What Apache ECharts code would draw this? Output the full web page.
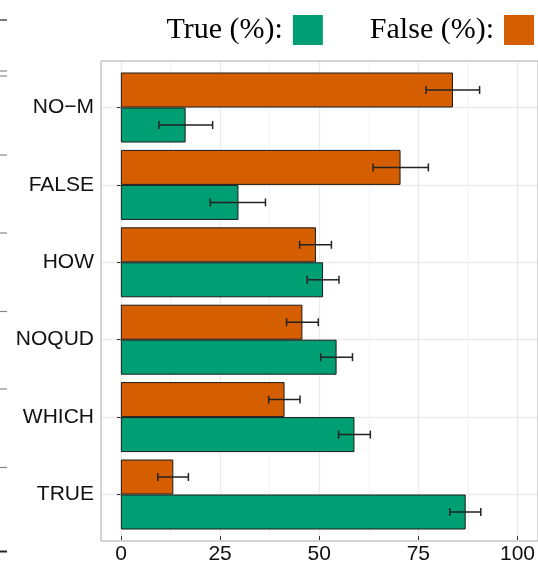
<!DOCTYPE html>
<html><head><meta charset="utf-8">
<script src="https://cdn.jsdelivr.net/npm/echarts@6/dist/echarts.min.js"></script>
<style>html,body{margin:0;padding:0;background:#fff}#c{width:538px;height:565px}</style>
</head><body><div id="c"></div>
<script>
// Categories listed bottom-to-top
const categories = ['TRUE', 'WHICH', 'NOQUD', 'HOW', 'FALSE', 'NO\u2212M'];
const trueValues = [86.8, 58.8, 54.3, 50.9, 29.6, 16.3];
const trueLow    = [82.8, 54.8, 50.3, 46.9, 22.5, 9.6];
const trueHigh   = [90.6, 62.8, 58.3, 54.9, 36.4, 23.1];
const falseValues = [13.2, 41.2, 45.7, 49.1, 70.4, 83.6];
const falseLow    = [9.3, 37.2, 41.7, 45.0, 63.5, 76.8];
const falseHigh   = [17.0, 45.1, 49.7, 53.0, 77.4, 90.3];
const xTickInterval = 25;

const BAR_W = 35;
const chart = echarts.init(document.getElementById('c'), null, {renderer: 'canvas'});

function errRender(dir) {
  return function (params, api) {
    const lo = api.coord([api.value(0), api.value(2)]);
    const hi = api.coord([api.value(1), api.value(2)]);
    const y = lo[1] + dir * BAR_W / 2;
    const h = 4;
    const st = {stroke: '#222', lineWidth: 1.5};
    return {type: 'group', children: [
      {type: 'line', shape: {x1: lo[0], y1: y, x2: hi[0], y2: y}, style: st},
      {type: 'line', shape: {x1: lo[0], y1: y - h, x2: lo[0], y2: y + h}, style: st},
      {type: 'line', shape: {x1: hi[0], y1: y - h, x2: hi[0], y2: y + h}, style: st}
    ]};
  };
}

const sideMarks = [20, 71, 76, 155, 233, 311.5, 389, 467.5, 551.5];

chart.setOption({
  animation: false,
  backgroundColor: '#fff',
  legend: {
    data: ['True (%)', 'False (%)'],
    formatter: '{name}:',
    right: 4, top: 15,
    padding: 0,
    align: 'right',
    icon: 'rect',
    itemWidth: 30, itemHeight: 30, itemGap: 47,
    selectedMode: false,
    itemStyle: {borderWidth: 0},
    textStyle: {fontFamily: 'Liberation Serif', fontSize: 30, color: '#000', padding: [0, 5, 0, 0]}
  },
  grid: [
    {left: 101, top: 107.5, width: 440, height: 387},
    {left: 121, top: 61, width: 400, height: 480},
    {left: 101, top: 61, width: 440, height: 480, show: true, borderColor: '#aaa', borderWidth: 1, backgroundColor: 'transparent', z: 5}
  ],
  xAxis: [
    {gridIndex: 0, type: 'value', min: -5, max: 105, show: false},
    {gridIndex: 1, type: 'value', min: 0, max: 100, interval: xTickInterval,
      axisLine: {show: false},
      axisTick: {show: true, length: 4, lineStyle: {color: '#333', width: 1}},
      axisLabel: {margin: 8, fontFamily: 'Liberation Sans', fontSize: 21, color: '#111'},
      splitLine: {show: true, lineStyle: {color: '#ebebeb', width: 1.4}},
      minorTick: {show: false, splitNumber: 2},
      minorSplitLine: {show: true, lineStyle: {color: '#f3f3f3', width: 1}}
    },
    {gridIndex: 2, type: 'value', min: 0, max: 1, show: false}
  ],
  yAxis: [
    {gridIndex: 0, type: 'category', data: categories, boundaryGap: false,
      axisLine: {show: false},
      axisTick: {show: true, length: 4, lineStyle: {color: '#333', width: 1}},
      axisLabel: {margin: 7, fontFamily: 'Liberation Sans', fontSize: 21, color: '#111'},
      splitLine: {show: true, lineStyle: {color: '#ebebeb', width: 1.4}}
    },
    {gridIndex: 1, type: 'value', min: 0, max: 1, show: false},
    {gridIndex: 2, type: 'value', min: 0, max: 1, show: false}
  ],
  graphic: sideMarks.map((y, i) => ({
    type: 'line', shape: {x1: 0, y1: y, x2: 7, y2: y},
    style: {stroke: (i === 0 || i === sideMarks.length - 1) ? '#222' : '#888', lineWidth: (i === sideMarks.length - 1) ? 2 : 1.2}
  })),
  series: [
    {name: 'False (%)', type: 'bar', xAxisIndex: 0, yAxisIndex: 0, data: falseValues,
      barWidth: BAR_W, barGap: '0%', z: 3,
      itemStyle: {color: '#D55E00', borderColor: '#1a1a1a', borderWidth: 1}},
    {name: 'True (%)', type: 'bar', xAxisIndex: 0, yAxisIndex: 0, data: trueValues,
      barWidth: BAR_W, barGap: '0%', z: 3,
      itemStyle: {color: '#009E73', borderColor: '#1a1a1a', borderWidth: 1}},
    {type: 'custom', xAxisIndex: 0, yAxisIndex: 0, z: 4,
      data: trueLow.map((v, i) => [v, trueHigh[i], i]),
      encode: {x: [0, 1], y: 2}, renderItem: errRender(1)},
    {type: 'custom', xAxisIndex: 0, yAxisIndex: 0, z: 4,
      data: falseLow.map((v, i) => [v, falseHigh[i], i]),
      encode: {x: [0, 1], y: 2}, renderItem: errRender(-1)}
  ]
});
</script></body></html>
